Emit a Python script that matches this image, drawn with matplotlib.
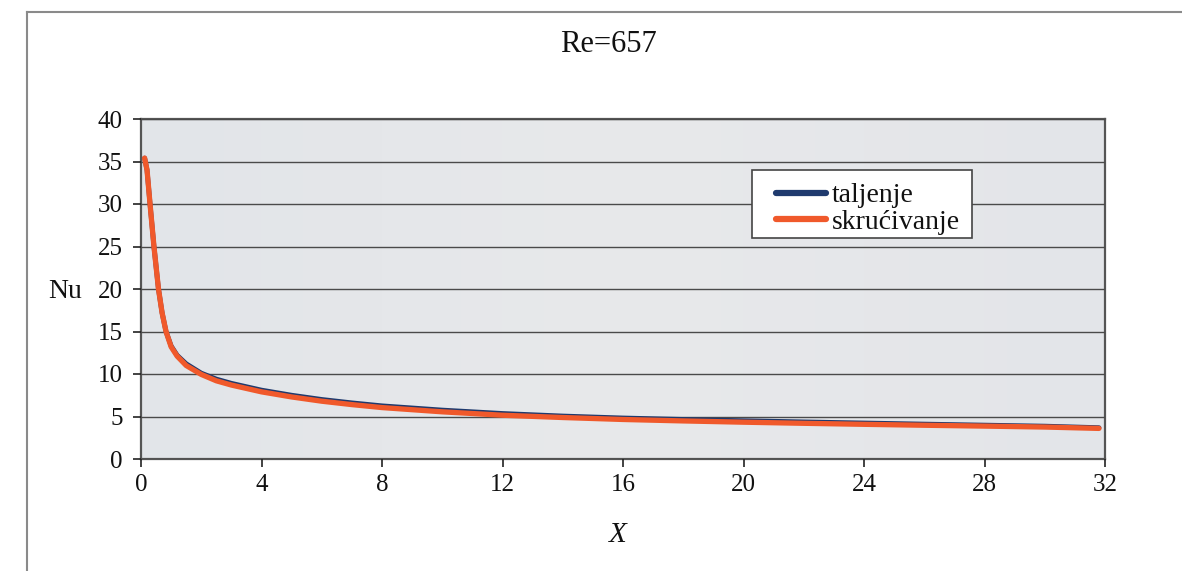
import numpy as np
import matplotlib
matplotlib.use("Agg")
import matplotlib.pyplot as plt
from matplotlib.lines import Line2D
from matplotlib.patches import Rectangle
from matplotlib.colors import LinearSegmentedColormap

title = "Re=657"
series_names = ["taljenje", "skrućivanje"]
x_vals = [0.12, 0.2, 0.3, 0.43, 0.58, 0.7, 0.83, 1.0, 1.2, 1.5, 2.0, 2.5, 3.0, 4.0,
          5.0, 6.0, 7.0, 8.0, 10.0, 12.0, 14.0, 16.0, 18.0, 20.0, 22.0, 24.0, 26.0,
          28.0, 30.0, 31.8]
nu_taljenje = [35.4, 34.0, 30.0, 25.0, 20.0, 17.2, 15.0, 13.3, 12.2, 11.2, 10.1, 9.4, 8.9, 8.1,
               7.5, 7.0, 6.6, 6.25, 5.75, 5.35, 5.05, 4.82, 4.65, 4.5, 4.36, 4.23, 4.1,
               3.98, 3.86, 3.68]
nu_skrucivanje = [35.4, 34.0, 30.0, 25.0, 20.0, 17.2, 15.0, 13.2, 12.1, 11.0, 9.95, 9.2, 8.7, 7.9,
                  7.3, 6.8, 6.4, 6.05, 5.55, 5.15, 4.88, 4.65, 4.48, 4.33, 4.2, 4.08, 3.97,
                  3.87, 3.76, 3.6]
x_ticks = [0, 4, 8, 12, 16, 20, 24, 28, 32]
y_ticks = [0, 5, 10, 15, 20, 25, 30, 35, 40]

serif = ["Liberation Serif", "DejaVu Serif"]
plt.rcParams['font.family'] = serif

W, H = 1182, 571
fig = plt.figure(figsize=(W / 100, H / 100), dpi=100)
fig.patch.set_facecolor("white")

# outer frame (top and left edges)
fig.add_artist(Line2D([27 / W, 1.0], [1 - 12 / H, 1 - 12 / H], transform=fig.transFigure,
                      color="#8a8a8a", lw=1.5))
fig.add_artist(Line2D([27 / W, 27 / W], [0, 1 - 12 / H], transform=fig.transFigure,
                      color="#8a8a8a", lw=1.5))

L, R, T, B = 141, 1105, 119, 459
ax = fig.add_axes([L / W, 1 - B / H, (R - L) / W, (B - T) / H])

def ax_x(px):
    return (px - L) / (R - L)

def ax_y(py):
    return (B - py) / (B - T)

# subtle gray background gradient
grad = np.linspace(0, 1, 256).reshape(1, -1)
cmap = LinearSegmentedColormap.from_list("bg", ["#e2e5e9", "#e8e9eb", "#e3e5e9"])
ax.imshow(grad, extent=[0, 1, 0, 1], transform=ax.transAxes, aspect="auto",
          cmap=cmap, zorder=0)

ax.set_xlim(0, 32)
ax.set_ylim(0, 40)
ax.set_xticks(x_ticks)
ax.set_yticks(y_ticks)
ax.grid(axis="y", color="#4a4a4a", lw=1.0, zorder=1)
ax.set_axisbelow(False)

ax.plot(x_vals, nu_taljenje, color="#1f3a6e", lw=3.5, label=series_names[0],
        zorder=3, solid_capstyle="round")
ax.plot(x_vals, nu_skrucivanje, color="#f0592b", lw=3.8, label=series_names[1],
        zorder=4, solid_capstyle="round")

for s in ax.spines.values():
    s.set_color("#555555")
    s.set_linewidth(1.6)

ax.tick_params(axis="both", labelsize=18, colors="#222222", length=6, width=1.2)
ax.tick_params(axis="x", pad=5)
ax.tick_params(axis="y", pad=7)
for lab in ax.get_xticklabels() + ax.get_yticklabels():
    lab.set_color("#111111")

# legend box
box = Rectangle((ax_x(752), ax_y(238)), ax_x(972) - ax_x(752), ax_y(170) - ax_y(238),
                transform=ax.transAxes, facecolor="white", edgecolor="#444444",
                lw=1.2, zorder=5)
ax.add_patch(box)
leg = ax.legend(loc="center left", bbox_to_anchor=(ax_x(776), ax_y(209)),
                borderaxespad=0, frameon=False, fontsize=20, handlelength=1.8,
                handletextpad=0.2, borderpad=0, labelspacing=0.05)
leg.set_zorder(6)
for line in leg.get_lines():
    line.set_linewidth(4.5)
for t in leg.get_texts():
    t.set_color("#111111")

fig.text(608 / W, 1 - 44 / H, title, ha="center", va="center", fontsize=22, color="#111111")
fig.text(48 / W, 1 - 292 / H, "Nu", ha="left", va="center", fontsize=20, color="#111111")
fig.text(618 / W, 1 - 535 / H, "X", ha="center", va="center", fontsize=21,
         style="italic", color="#111111")

fig.savefig("out.png", dpi=100)
